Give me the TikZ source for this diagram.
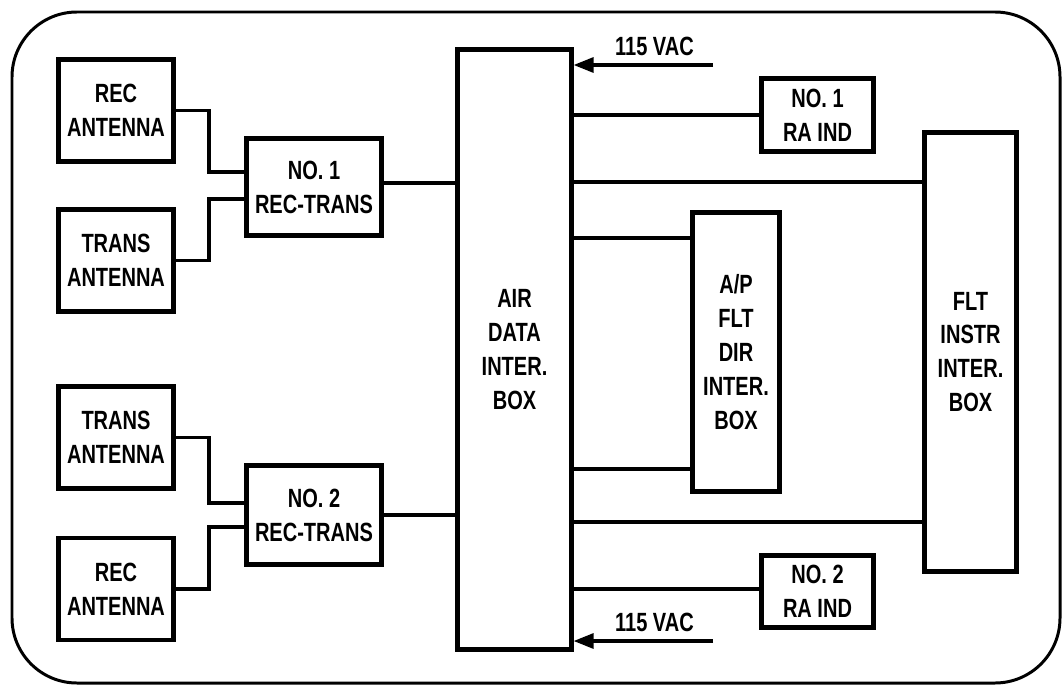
\documentclass[tikz,border=0pt]{standalone}
\usepackage{fontspec}
\setmainfont{Liberation Sans}[FakeStretch=0.76]
\usetikzlibrary{arrows.meta}
\tikzset{
  caja/.style={draw, line width=2.4pt, align=center, inner sep=0pt},
  wire/.style={line width=1.8pt},
  pwr/.style={line width=1.8pt, -{Triangle[length=0.4cm, width=0.3cm]}}
}
\newcommand{\bloque}[6]{%
  \node[caja, minimum width=#4*0.02cm, minimum height=#5*0.02cm] (#1) at (#2,#3) {#6};}

\begin{document}
\begin{tikzpicture}[x=0.02cm, y=-0.02cm, font=\fontsize{15}{19.3}\selectfont\bfseries]
  \useasboundingbox (0,0) rectangle (1064,686);
  \draw[line width=1.7pt, rounded corners=1.3cm] (12,12) rectangle (1060,683);
  % antenas
  \foreach \n/\yy/\t in {recA1/110.5/REC, trA1/260.5/TRANS, trA2/437.5/TRANS, recA2/589/REC}
    {\bloque{\n}{116}{\yy}{115}{102}{\t\\ANTENNA}}
  \bloque{rt1}{314}{187}{135}{97}{NO. 1\\REC-TRANS}
  \bloque{rt2}{314}{515}{135}{99}{NO. 2\\REC-TRANS}
  \bloque{adib}{514.5}{349.5}{114}{600}{AIR\\DATA\\INTER.\\BOX}
  \bloque{ap}{736}{352}{87}{279}{A/P\\FLT\\DIR\\INTER.\\BOX}
  \bloque{fib}{970.5}{352}{92}{439}{FLT\\INSTR\\INTER.\\BOX}
  \bloque{ra1}{817.5}{115}{112}{73}{NO. 1\\RA IND}
  \bloque{ra2}{817.5}{591.5}{112}{72}{NO. 2\\RA IND}
  % antenas a rec-trans
  \foreach \src/\dst/\dy in {recA1/rt1/0.3cm, trA1/rt1/-0.24cm, trA2/rt2/0.24cm, recA2/rt2/-0.24cm}
    \draw[wire] (\src.east) -- (209,0 |- \src.east) |- ([yshift=\dy]\dst.west);
  \draw[wire] (rt1.east |- 0,183) -- (adib.west |- 0,183);
  \draw[wire] (rt2.east) -- (adib.west |- rt2.east);
  % salidas de la caja de datos
  \foreach \yy/\dst in {115/ra1, 182/fib, 238/ap, 469/ap, 522/fib, 589/ra2}
    \draw[wire] (adib.east |- 0,\yy) -- (\dst.west |- 0,\yy);
  % alimentacion
  \coordinate (vac1) at (713,65);
  \coordinate (vac2) at (713,641);
  \foreach \c in {vac1, vac2}
    \draw[pwr] (\c) -- (adib.east |- \c) node[pos=0.42, above=1pt] {115 VAC};
\end{tikzpicture}
\end{document}
